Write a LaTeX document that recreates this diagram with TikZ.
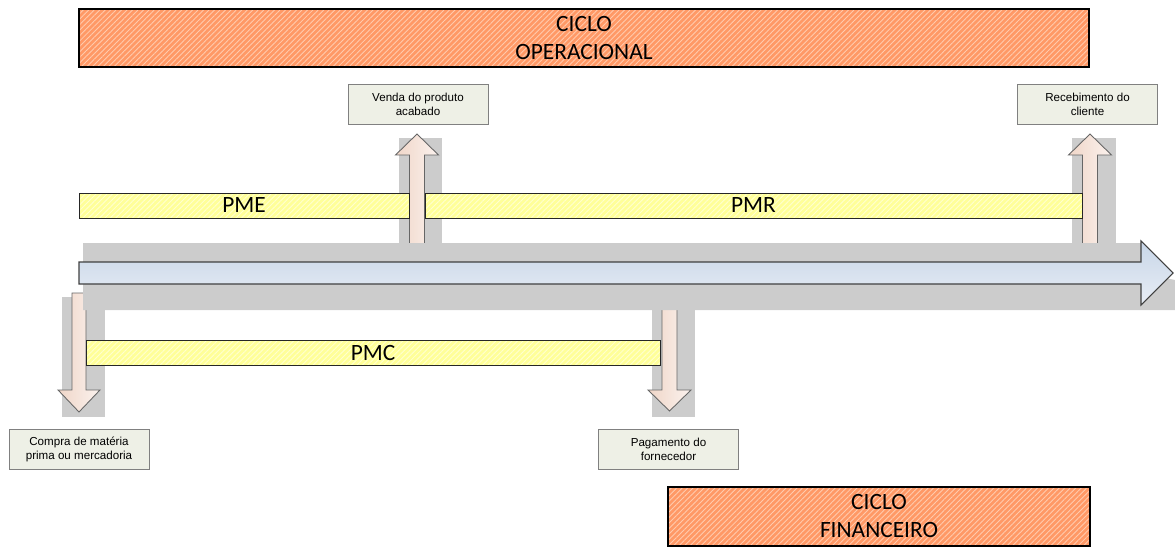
\documentclass[tikz,border=0pt]{standalone}
\usepackage{fontspec}
\setmainfont{Carlito}
\newfontfamily\arialfont{Liberation Sans}
\usetikzlibrary{patterns.meta}

\definecolor{laranja}{HTML}{FF9966}
\definecolor{laranjaclaro}{HTML}{FFCBAE}
\definecolor{amarelo}{HTML}{FFFF99}
\definecolor{amareloclaro}{HTML}{FFFFD0}
\definecolor{corsombra}{HTML}{CCCCCC}
\definecolor{corcaixa}{HTML}{EEF0E6}
\definecolor{pessego}{HTML}{F0D6C8}
\definecolor{pessegoclaro}{HTML}{FBF2EE}
\definecolor{azul}{HTML}{C8D6E8}
\definecolor{azulclaro}{HTML}{E8EDF5}

\begin{document}
\begin{tikzpicture}[x=0.02cm, y=-0.02cm,
	ciclo/.style={draw=black, line width=0.7pt, preaction={fill=laranja},
		preaction={pattern={Lines[angle=45,distance=2.2pt,line width=0.5pt]}, pattern color=laranjaclaro}},
	barra/.style={draw=black!85, line width=0.5pt, preaction={fill=amarelo},
		preaction={pattern={Lines[angle=45,distance=2.2pt,line width=0.5pt]}, pattern color=amareloclaro}},
	caixa/.style={draw=black!50, line width=0.4pt, fill=corcaixa, minimum width=2.8cm, minimum height=0.8cm,
		inner sep=0pt, align=center, font=\arialfont\fontsize{6.6}{7.9}\selectfont},
	rotulo/.style={align=center, font=\fontsize{13.3}{15.9}\selectfont},
	seta/.style={draw=black!60, line width=0.5pt, left color=pessego, right color=pessegoclaro},
	principal/.style={draw=black!75, line width=0.6pt, top color=azul, bottom color=azulclaro},
	sombra/.style={fill=corsombra}]
	\useasboundingbox (0,0) rectangle (1175,547);

	% ciclos
	\draw[ciclo] (79,9) rectangle (1089,67);
	\node[rotulo] at (584,38) (operacional) {CICLO\\OPERACIONAL};
	\draw[ciclo] (668,487) rectangle (1090,546);
	\node[rotulo] at (879,516) (financeiro) {CICLO\\FINANCEIRO};

	% sombras das setas verticais
	\fill[sombra] (399,138) rectangle (442,243);
	\fill[sombra] (1072,138) rectangle (1116,243);
	\fill[sombra] (62,297) rectangle (105,417);
	\fill[sombra] (652,300) rectangle (695,417);

	% setas verticais
	\draw[seta] (409.5,250) -- (409.5,155) -- (395.5,155) -- (417,134) -- (438.5,155) -- (424.5,155) -- (424.5,250) -- cycle;
	\draw[seta] (1082.5,250) -- (1082.5,155) -- (1068.5,155) -- (1090,134) -- (1111.5,155) -- (1097.5,155) -- (1097.5,250) -- cycle;
	\draw[seta] (72,293) -- (72,390) -- (58,390) -- (79,412) -- (100,390) -- (86,390) -- (86,293) -- cycle;
	\draw[seta] (662,300) -- (662,390) -- (648,390) -- (669.5,411) -- (691,390) -- (677,390) -- (677,300) -- cycle;

	% linha do tempo
	\fill[sombra] (83,243) -- (1141,243) -- (1141,273) -- (1175,280) -- (1175,310) -- (83,310) -- cycle;
	\draw[principal] (79,262) -- (1141,262) -- (1141,241) -- (1173,273) -- (1141,305) -- (1141,284) -- (79,284) -- cycle;

	% prazos
	\draw[barra] (79,193) rectangle (409,218);
	\node[rotulo] at (244,205.5) (pme) {PME};
	\draw[barra] (425,193) rectangle (1082,218);
	\node[rotulo] at (753.5,205.5) (pmr) {PMR};
	\draw[barra] (86,340) rectangle (660,365);
	\node[rotulo] at (373,352.5) (pmc) {PMC};

	% eventos
	\node[caixa] at (418,104.5) (venda) {Venda do produto\\acabado};
	\node[caixa] at (1087.5,104.5) (recebimento) {Recebimento do\\cliente};
	\node[caixa] at (79,449) (compra) {Compra de matéria\\prima ou mercadoria};
	\node[caixa] at (668.5,449.5) (pagamento) {Pagamento do\\fornecedor};

\end{tikzpicture}
\end{document}
